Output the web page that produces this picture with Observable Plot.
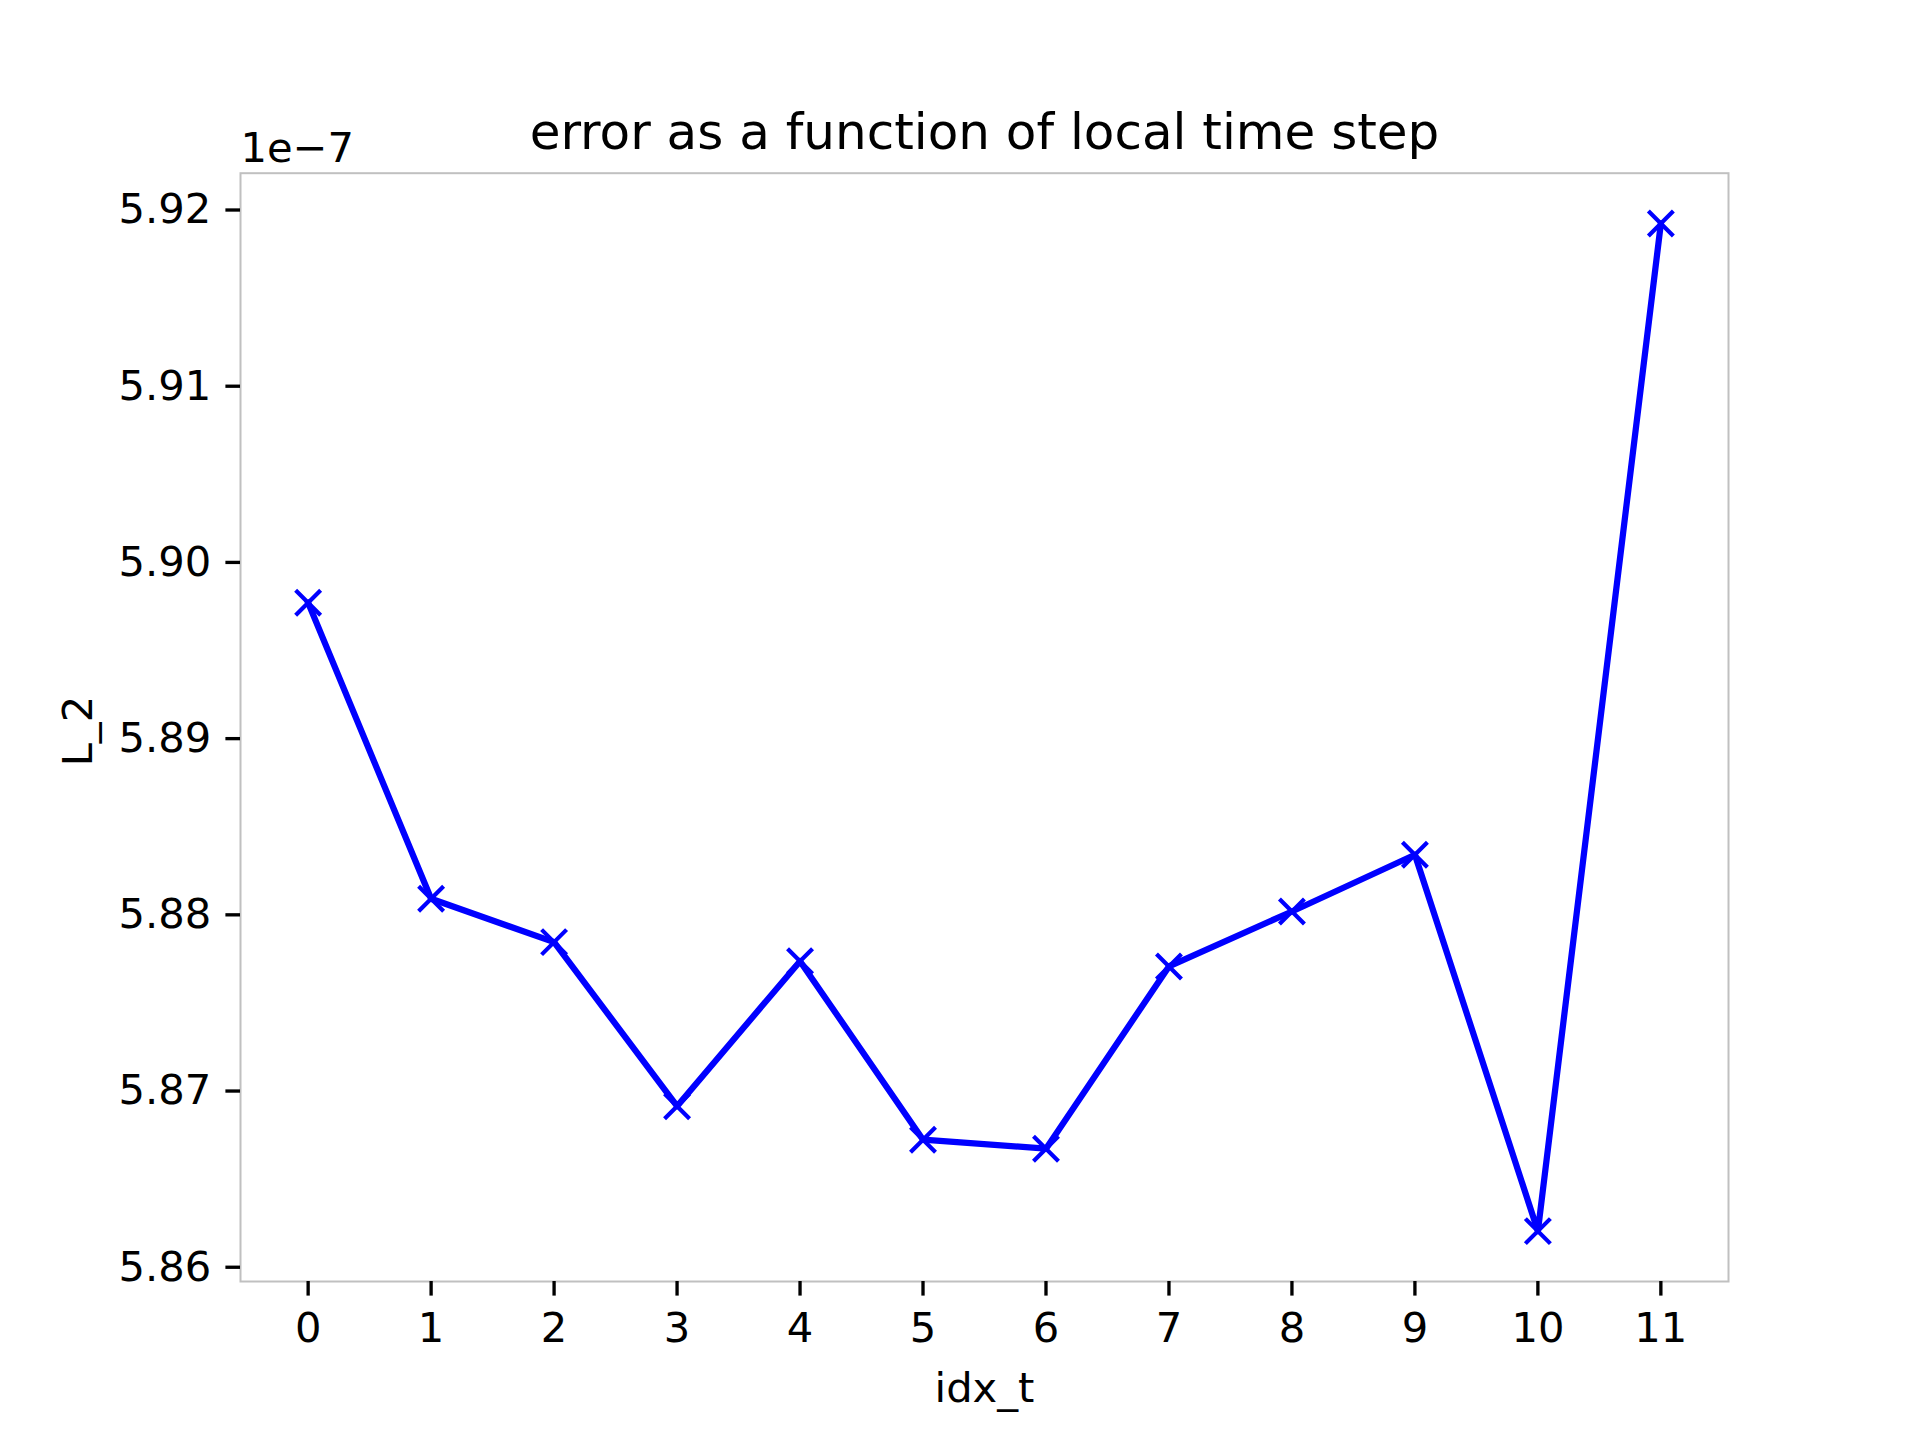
<!DOCTYPE html>
<html><head><meta charset="utf-8">
<script src="https://cdn.jsdelivr.net/npm/d3@7"></script>
<script src="https://cdn.jsdelivr.net/npm/@observablehq/plot@0.6"></script>
<style>html,body{margin:0;padding:0;background:#fff;}</style>
</head><body><div id="chart"></div>
<script>
// chart values
const idxT = [0, 1, 2, 3, 4, 5, 6, 7, 8, 9, 10, 11];
const l2 = [5.89771e-7, 5.88091e-7, 5.87845e-7, 5.86914e-7, 5.87737e-7, 5.86724e-7,
            5.86673e-7, 5.87707e-7, 5.88019e-7, 5.88341e-7, 5.86205e-7, 5.91923e-7];
const xTicks = [0, 1, 2, 3, 4, 5, 6, 7, 8, 9, 10, 11];
const yTicks = [5.86, 5.87, 5.88, 5.89, 5.90, 5.91, 5.92];
const titleText = "error as a function of local time step";
const xLabel = "idx_t";
const yLabel = "L_2";
const offsetText = "1e\u22127";
const offsetScale = 1e7;

const data = idxT.map((t, i) => ({t, v: l2[i] * offsetScale}));
const pad = (lo, hi) => { const m = (hi - lo) * 0.05; return [lo - m, hi + m]; };
const xDom = pad(d3.min(idxT), d3.max(idxT));
const yDom = pad(d3.min(data, d => d.v), d3.max(data, d => d.v));

const chart = Plot.plot({
  width: 1920, height: 1440,
  marginLeft: 240, marginRight: 192, marginTop: 172.7, marginBottom: 159,
  style: {fontFamily: "'DejaVu Sans', sans-serif", fontSize: "41.67px", background: "#fff", color: "#000"},
  x: {domain: xDom},
  y: {domain: yDom},
  marks: [
    Plot.frame({stroke: "#c0c0c0", strokeWidth: 2}),
    Plot.axisX({ticks: xTicks, tickSize: 14.6, tickPadding: 16.8, strokeWidth: 3.33, label: null, tickFormat: d => String(d), fontSize: 41.67}),
    Plot.axisY({ticks: yTicks, tickSize: 14.6, tickPadding: 14.6, strokeWidth: 3.33, label: null, tickFormat: d3.format(".2f"), fontSize: 41.67}),
    Plot.line(data, {x: "t", y: "v", stroke: "#0000ff", strokeWidth: 6.25, strokeLinejoin: "round", strokeLinecap: "square"}),
    Plot.dot(data, {x: "t", y: "v", symbol: "times", r: 11.42, stroke: "#0000ff", strokeWidth: 4.17, fill: "none"}),
    Plot.text([titleText], {text: d => d, frameAnchor: "top", lineAnchor: "bottom", dy: -24.7, fontSize: 50, fill: "#000"}),
    Plot.text([offsetText], {text: d => d, frameAnchor: "top-left", textAnchor: "start", lineAnchor: "bottom", dy: -11.7, fontSize: 41.67, fill: "#000"}),
    Plot.text([xLabel], {text: d => d, frameAnchor: "bottom", lineAnchor: "bottom", dy: 120, fontSize: 41.67, fill: "#000"}),
    Plot.text([yLabel], {text: d => d, frameAnchor: "left", rotate: -90, lineAnchor: "bottom", dx: -149, dy: 39, fontSize: 41.67, fill: "#000"})
  ]
});
document.getElementById("chart").appendChild(chart);
</script>
</body></html>
